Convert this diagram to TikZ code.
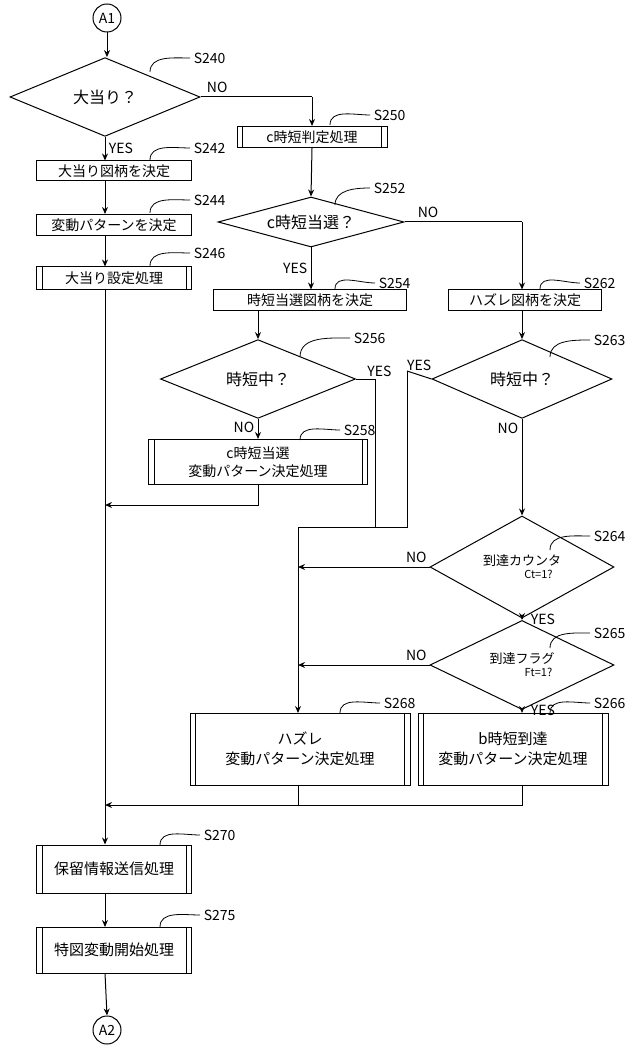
\documentclass[tikz,border=0pt]{standalone}
\usepackage{fontspec}
\setmainfont{Noto Sans CJK JP}
\usetikzlibrary{shapes.geometric,arrows.meta}
\begin{document}
\begin{tikzpicture}[x=1pt,y=-1pt,line width=1pt,
  every node/.style={font=\fontsize{14}{17}\selectfont},
  box/.style={draw,rectangle,inner sep=1pt,align=center},
  pp/.style={box,append after command={
     ([xshift=6pt]\tikzlastnode.north west) edge[draw,-] ([xshift=6pt]\tikzlastnode.south west)
     ([xshift=-6pt]\tikzlastnode.north east) edge[draw,-] ([xshift=-6pt]\tikzlastnode.south east)}},
  dia/.style={draw,diamond,inner sep=0pt,align=center,font=\fontsize{16}{19}\selectfont},
  lab/.style={font=\fontsize{14}{16}\selectfont,anchor=west},
  yn/.style={font=\fontsize{14}{16}\selectfont},
  arr/.style={-{Stealth[length=7pt,width=6pt,open]}},
  lead/.style={line width=0.8pt}]
\useasboundingbox (0,0) rectangle (640,1056);
\node[draw,circle,minimum size=28pt,inner sep=0pt] (a1) at (107,18) {A1};
\node[draw,circle,minimum size=28pt,inner sep=0pt] (a2) at (107,1030) {A2};
\node[dia,minimum width=190pt,minimum height=50pt] (d240) at (105,97) {大当り？};
\node[pp,minimum width=150pt,minimum height=21pt] (b250) at (312,137) {c時短判定処理};
\node[box,minimum width=155pt,minimum height=20pt] (b242) at (114,171) {大当り図柄を決定};
\node[box,minimum width=155pt,minimum height=21pt] (b244) at (114,225) {変動パターンを決定};
\node[pp,minimum width=155pt,minimum height=22pt] (b246) at (114,278) {大当り設定処理};
\node[dia,shape aspect=3.7,minimum width=186pt,minimum height=50pt] (d252) at (311,222) {c時短当選？};
\node[box,minimum width=193pt,minimum height=21pt] (b254) at (310,300) {時短当選図柄を決定};
\node[box,minimum width=153pt,minimum height=21pt] (b262) at (525,300) {ハズレ図柄を決定};
\node[dia,minimum width=195pt,minimum height=68pt] (d256) at (258,379) {時短中？};
\node[dia,minimum width=180pt,minimum height=68pt] (d263) at (522,379) {時短中？};
\node[pp,minimum width=219pt,minimum height=45pt,font=\fontsize{14}{18}\selectfont] (b258) at (258,462) {c時短当選\\変動パターン決定処理};
\node[dia,minimum width=184pt,minimum height=55pt,font=\fontsize{13}{15}\selectfont] (d264) at (522,567) {到達カウンタ\\[-2pt]{\fontsize{11}{13}\selectfont\hspace{3em}Ct=1?}};
\node[dia,minimum width=184pt,minimum height=54pt,font=\fontsize{13}{15}\selectfont] (d265) at (522,665) {到達フラグ\\[-2pt]{\fontsize{11}{13}\selectfont\hspace{3em}Ft=1?}};
\node[pp,minimum width=220pt,minimum height=72pt,font=\fontsize{15}{20}\selectfont] (b268) at (300,749) {ハズレ\\変動パターン決定処理};
\node[pp,minimum width=190pt,minimum height=72pt,font=\fontsize{15}{20}\selectfont] (b266) at (513,749) {b時短到達\\変動パターン決定処理};
\node[pp,minimum width=155pt,minimum height=48pt,font=\fontsize{15}{18}\selectfont] (b270) at (114,869) {保留情報送信処理};
\node[pp,minimum width=155pt,minimum height=46pt,font=\fontsize{15}{18}\selectfont] (b275) at (114,950) {特図変動開始処理};
% step labels
\foreach \n/\x/\y/\sx/\sy in {240/190/58/150/72, 242/190/148/150/160, 244/190/200/150/213, 246/190/253/150/266, 250/370/115/330/125, 252/370/188/335/205, 254/375/283/335/289, 262/580/283/540/289, 256/350/338/300/357, 263/590/340/550/357, 258/340/430/300/440, 264/590/536/550/550, 265/590/633/550/648, 268/380/703/340/713, 266/590/703/550/713, 270/200/835/160/845, 275/200/915/160/927}{
  \node[lab] (l\n) at (\x,\y) {S\n};
  \draw[lead] (\sx,\sy) to[out=90,in=180] (l\n.west);
}
% connectors
\draw[arr] (a1) -- (a1 |- d240.north);
\draw[arr] (d240.south) -- (b242.north -| d240.south) node[yn,pos=0.5,right] {YES};
\draw (d240.east) -- (312,97) node[yn,pos=0.15,above] {NO};
\draw[arr] (312,97) -- (b250.north);
\draw[arr] (d240.south |- b242.south) -- (d240.south |- b244.north);
\draw[arr] (d240.south |- b244.south) -- (d240.south |- b246.north);
\draw[arr] (d240.south |- b246.south) -- (d240.south |- b270.north);
\draw[arr] (b250.south) -- (d252.north);
\draw (d252.east) -- (522,222) node[yn,pos=0.2,above] {NO};
\draw[arr] (522,222) -- (522,289.5);
\draw[arr] (d252.south) -- (311,289.5) node[yn,pos=0.5,left] {YES};
\draw[arr] (258,310.5) -- (d256.north);
\draw[arr] (d256.south) -- (b258.north) node[yn,pos=0.4,left] {NO};
\draw (d256.east) -- (375,379) node[yn,pos=0.5,above right=-2pt] {YES};
\draw (375,379) -- (375,527) -- (298,527);
\draw (d263.west) -- (407,371) node[yn,pos=0.5,above] {YES};
\draw (407,371) -- (407,527) -- (375,527);
\draw[arr] (298,527) -- (298,713);
\draw[arr] (522,310.5) -- (d263.north);
\draw[arr] (d263.south) -- (d264.north) node[yn,pos=0.1,left] {NO};
\draw[arr] (d264.west) -- (298,567) node[yn,pos=0.1,above] {NO};
\draw[arr] (d264.south) -- (d265.north) node[yn,pos=0.25,right=5pt] {YES};
\draw[arr] (d265.west) -- (298,665) node[yn,pos=0.1,above] {NO};
\draw[arr] (d265.south) -- (522,713) node[yn,pos=0.25,right=5pt] {YES};
\draw[arr] (258,485) -- (258,505) -- (105,505);
\draw (298,785) -- (298,805);
\draw[arr] (522,785) -- (522,805) -- (105,805);
\draw[arr] (105,893) -- (105,927);
\draw[arr] (105,973) -- (a2.north);
\end{tikzpicture}
\end{document}
